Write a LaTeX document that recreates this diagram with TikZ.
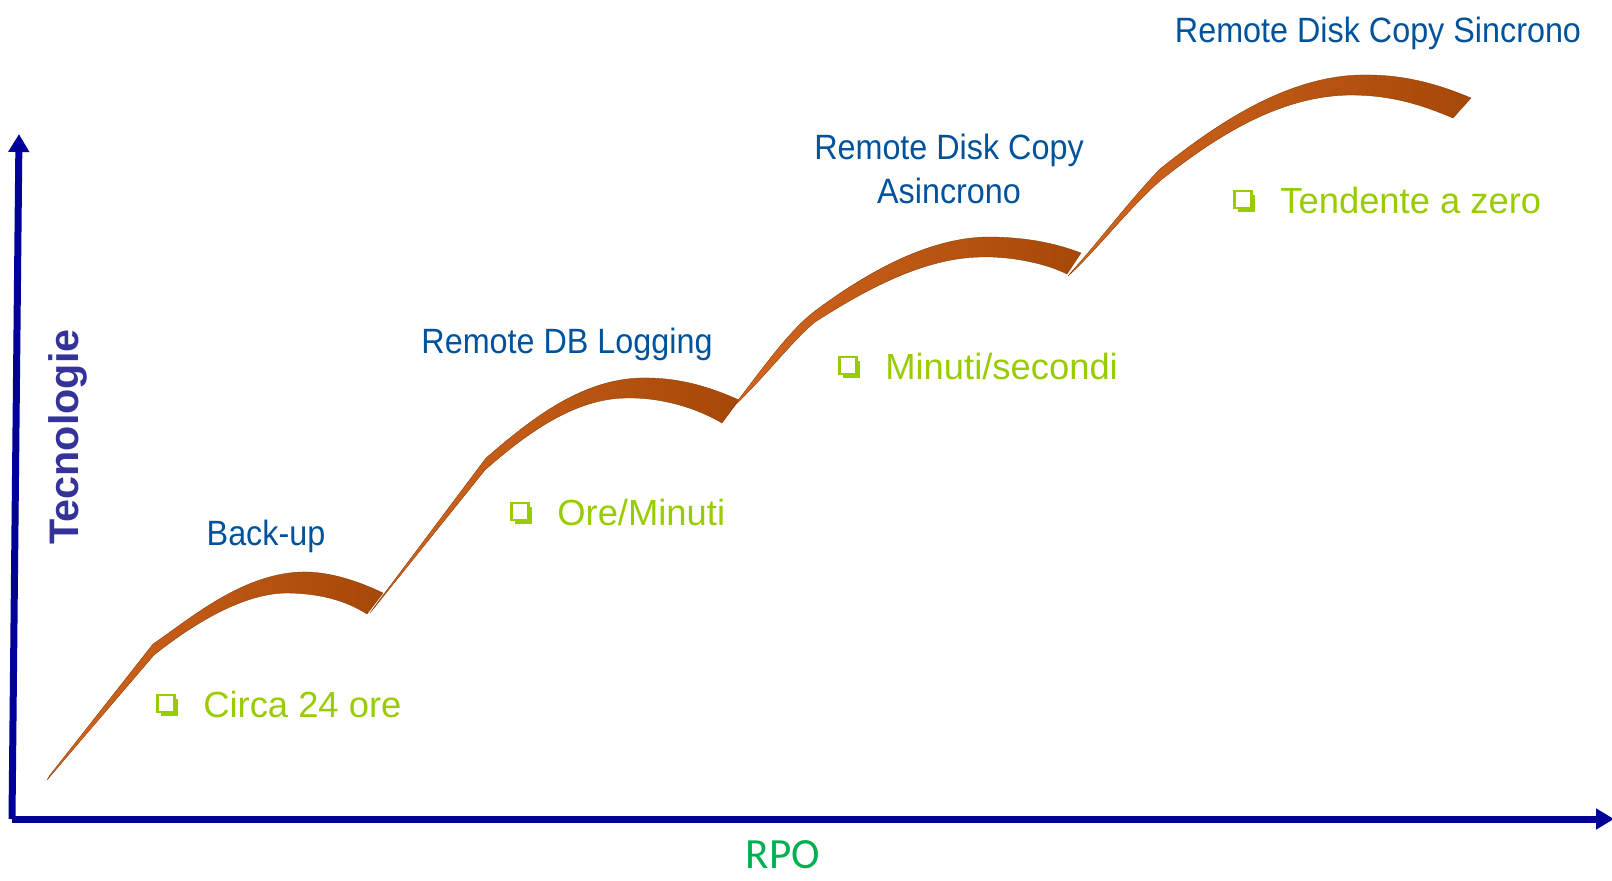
\documentclass[tikz,border=0pt]{standalone}
\usepackage{fontspec}
\setmainfont{Liberation Sans}
\newfontfamily\labelfont[FakeStretch=0.92]{Liberation Sans}
\newfontfamily\rpofont{Carlito}
\usetikzlibrary{
	positioning,
	arrows.meta,
	shadows
}
\definecolor{axiscolor}{HTML}{000099}
\definecolor{techcolor}{HTML}{333399}
\definecolor{labelblue}{HTML}{00529B}
\definecolor{itemgreen}{HTML}{99CC00}
\definecolor{rpogreen}{HTML}{00B050}
\definecolor{ribbonlight}{HTML}{D2661F}
\definecolor{ribbondark}{HTML}{A64808}
\tikzset{
	axis/.style={
		-{Triangle[length=0.36cm, width=0.4cm]},
		color=axiscolor,
		line width=0.14cm
	},
	ribbon/.style={
		left color=ribbonlight,
		right color=ribbondark,
		draw=ribbondark!80!black,
		line width=0.2pt
	},
	techlabel/.style={
		text=labelblue,
		inner sep=0pt,
		align=center,
		font=\labelfont\fontsize{20pt}{25pt}\selectfont
	},
	itemtext/.style={
		text=itemgreen,
		inner sep=0pt,
		text depth=0pt,
		font=\fontsize{20.7pt}{25pt}\selectfont
	},
	chkbox/.style={
		draw=itemgreen,
		fill=white,
		line width=1.3pt,
		minimum size=0.34cm,
		inner sep=0pt,
		general shadow={fill=itemgreen, shadow xshift=0.07cm, shadow yshift=-0.07cm}
	}
}

\begin{document}
\begin{tikzpicture}[x=0.02cm, y=-0.02cm]
	\useasboundingbox (0,0) rectangle (1612,880);
	
	% Axes
	\coordinate (origin) at (12,819);
	\coordinate (ytop) at (19,134);
	\coordinate (xend) at (1614,819);
	\draw[axis] (origin) -- (ytop);
	\draw[axis] (origin) -- (xend);
	
	\node[rotate=90, anchor=base, text=techcolor, inner sep=0pt,
	font=\fontsize{23.5pt}{28pt}\selectfont\bfseries] (tech) at (78,437) {Tecnologie};
	\node[anchor=base, text=rpogreen, inner sep=0pt,
	font=\fontsize{24.5pt}{28pt}\selectfont\rpofont] (rpo) at (783,868) {RPO};
	
	% Ribbon steps
	\path[ribbon] (50,775) -- (153,644)
	.. controls (190,619) and (240,575) .. (300,572)
	.. controls (330,571) and (360,582) .. (383,593)
	-- (367,614)
	.. controls (345,600) and (318,593) .. (285,593)
	.. controls (245,594) and (198,620) .. (154,655)
	-- (47,780) -- cycle;
	
	\path[ribbon] (375,606) -- (486,458)
	.. controls (530,420) and (580,380) .. (640,378)
	.. controls (680,377) and (712,388) .. (739,400)
	-- (722,423)
	.. controls (700,410) and (665,397) .. (625,398)
	.. controls (575,399) and (528,432) .. (485,470)
	-- (370,613) -- cycle;
	
	\path[ribbon] (736,403)
	.. controls (765,365) and (790,330) .. (815,311)
	.. controls (870,270) and (930,238) .. (987,237)
	.. controls (1025,237) and (1055,243) .. (1081,253)
	-- (1067,274)
	.. controls (1045,263) and (1010,256) .. (980,257)
	.. controls (925,258) and (868,288) .. (815,322)
	.. controls (791,342) and (767,375) .. (731,409) -- cycle;
	
	\path[ribbon] (1073,270)
	.. controls (1100,240) and (1130,200) .. (1160,169)
	.. controls (1215,125) and (1285,77) .. (1360,75)
	.. controls (1405,74) and (1440,85) .. (1471,98)
	-- (1453,118)
	.. controls (1420,104) and (1390,95) .. (1350,95)
	.. controls (1280,96) and (1218,135) .. (1161,180)
	.. controls (1127,210) and (1097,250) .. (1068,276) -- cycle;
	
	% Step labels
	\node[techlabel, anchor=base] (backup) at (266,545) {Back-up};
	\node[techlabel, anchor=base] (dblog) at (567,353) {Remote DB Logging};
	\node[techlabel, anchor=north] (async) at (949,134) {Remote Disk Copy\\Asincrono};
	\node[techlabel, anchor=base] (sync) at (1378,42) {Remote Disk Copy Sincrono};
	
	% RPO values
	\node[itemtext, anchor=base west] (rpoa) at (203,717) {Circa 24 ore};
	\node[chkbox, left=0.55cm of rpoa] (boxa) {};
	
	\node[itemtext, anchor=base west] (rpob) at (557,525) {Ore/Minuti};
	\node[chkbox, left=0.55cm of rpob] (boxb) {};
	
	\node[itemtext, anchor=base west] (rpoc) at (885,379) {Minuti/secondi};
	\node[chkbox, left=0.55cm of rpoc] (boxc) {};
	
	\node[itemtext, anchor=base west] (rpod) at (1280,213) {Tendente a zero};
	\node[chkbox, left=0.55cm of rpod] (boxd) {};
	
\end{tikzpicture}
\end{document}
